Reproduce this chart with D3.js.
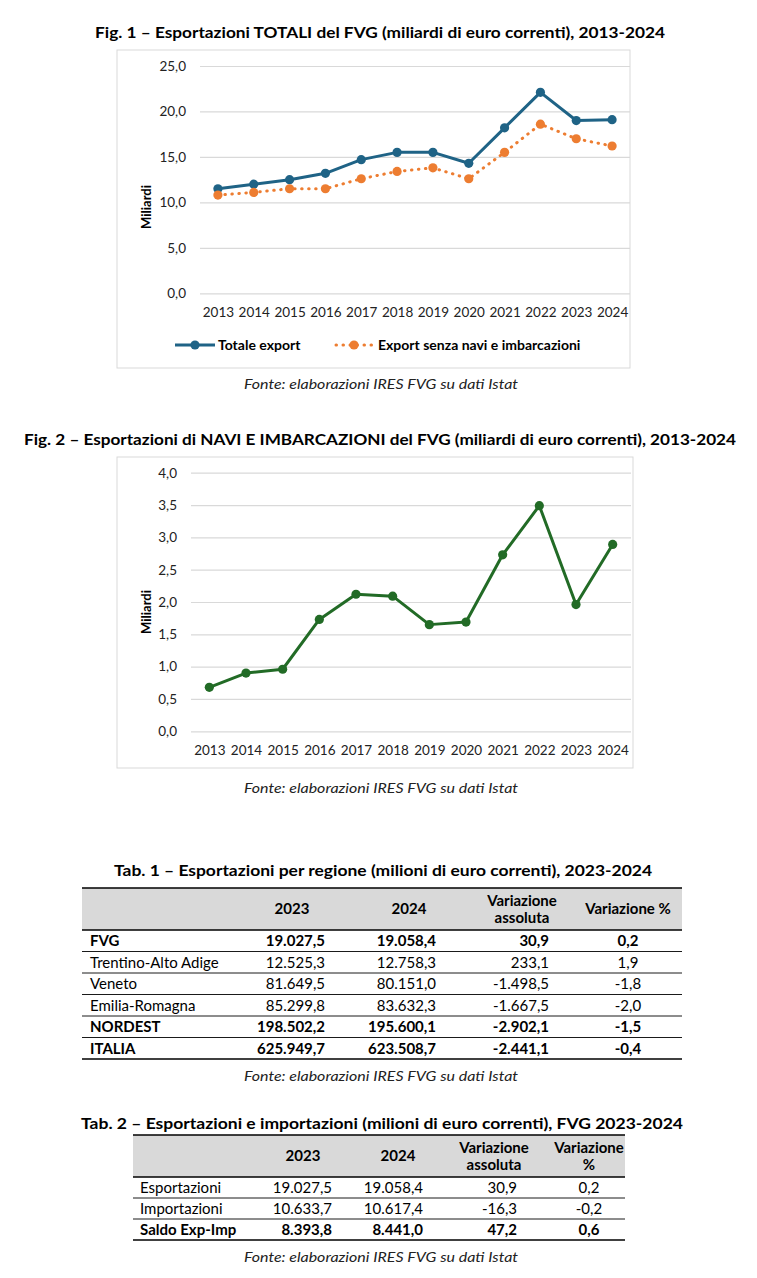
<!DOCTYPE html>
<html>
<head>
<meta charset="utf-8">
<script src="https://cdn.jsdelivr.net/npm/d3@7"></script>
<style>
  body { margin: 0; background: #fff; }
  svg { display: block; font-family: Lato, "Open Sans", sans-serif; }
</style>
</head>
<body>
<div id="chart"></div>
<script>
// Data
var years = [2013, 2014, 2015, 2016, 2017, 2018, 2019, 2020, 2021, 2022, 2023, 2024];
var totaleExport = [11.5, 12.0, 12.5, 13.2, 14.7, 15.5, 15.5, 14.3, 18.2, 22.1, 19.0, 19.1];
var exportSenzaNavi = [10.8, 11.1, 11.5, 11.5, 12.6, 13.4, 13.8, 12.6, 15.5, 18.6, 17.0, 16.2];
var naviImbarcazioni = [0.68, 0.90, 0.96, 1.73, 2.12, 2.09, 1.65, 1.69, 2.73, 3.49, 1.96, 2.89];
var yTicks1 = [0, 5, 10, 15, 20, 25];
var yTicks2 = [0, 0.5, 1, 1.5, 2, 2.5, 3, 3.5, 4];
var seriesNames = ['Totale export', 'Export senza navi e imbarcazioni'];

var tab1Header = ['', '2023', '2024', 'Variazione|assoluta', 'Variazione %'];
var tab1Labels = ['FVG', 'Trentino-Alto Adige', 'Veneto', 'Emilia-Romagna', 'NORDEST', 'ITALIA'];
var tab1Bold = [true, false, false, false, true, true];
var tab1Values = [
  [19027.5, 19058.4, 30.9, 0.2],
  [12525.3, 12758.3, 233.1, 1.9],
  [81649.5, 80151.0, -1498.5, -1.8],
  [85299.8, 83632.3, -1667.5, -2.0],
  [198502.2, 195600.1, -2902.1, -1.5],
  [625949.7, 623508.7, -2441.1, -0.4]
];

var tab2Header = ['', '2023', '2024', 'Variazione|assoluta', 'Variazione|%'];
var tab2Labels = ['Esportazioni', 'Importazioni', 'Saldo Exp-Imp'];
var tab2Bold = [false, false, true];
var tab2Values = [
  [19027.5, 19058.4, 30.9, 0.2],
  [10633.7, 10617.4, -16.3, -0.2],
  [8393.8, 8441.0, 47.2, 0.6]
];

var fonte = 'Fonte: elaborazioni IRES FVG su dati Istat';

var it = d3.formatLocale({ decimal: ',', thousands: '.', grouping: [3], currency: ['€', ''], minus: '-' });
var fmt1 = it.format('.1f');
var fmtNum = it.format(',.1f');

var W = 757, H = 1278;
var svg = d3.select('#chart').append('svg').attr('width', W).attr('height', H);

var BLUE = '#1f6386', ORANGE = '#ed7d31', GREEN = '#226b26', GRID = '#d9d9d9';

function title(text, x, y, len) {
  svg.append('text')
    .attr('x', x).attr('y', y)
    .attr('text-anchor', 'middle')
    .attr('font-weight', 'bold')
    .attr('font-size', '15px')
    .attr('fill', '#000')
    .attr('textLength', len)
    .attr('lengthAdjust', 'spacingAndGlyphs')
    .text(text);
}

function source(y) {
  svg.append('text')
    .attr('x', 381).attr('y', y)
    .attr('text-anchor', 'middle')
    .attr('font-style', 'italic')
    .attr('font-size', '14px')
    .attr('fill', '#222')
    .attr('textLength', 274)
    .attr('lengthAdjust', 'spacingAndGlyphs')
    .text(fonte);
}

function lineChart(opt) {
  svg.append('rect')
    .attr('x', opt.frame[0]).attr('y', opt.frame[1])
    .attr('width', opt.frame[2]).attr('height', opt.frame[3])
    .attr('fill', '#fff').attr('stroke', GRID).attr('stroke-width', 1);

  var x = d3.scalePoint().domain(years).range(opt.xRange).padding(0.5);
  var y = d3.scaleLinear().domain(opt.yDomain).range(opt.yRange);

  var yAxis = svg.append('g')
    .attr('transform', 'translate(' + opt.xRange[0] + ',0)')
    .call(d3.axisLeft(y).tickValues(opt.yTicks).tickFormat(fmt1)
      .tickSize(-(opt.xRange[1] - opt.xRange[0])).tickPadding(opt.tickPad));
  yAxis.select('.domain').remove();
  yAxis.selectAll('line').attr('stroke', GRID).attr('stroke-width', 1.2);
  yAxis.selectAll('text').attr('font-size', '13.5px').attr('fill', '#222').attr('font-family', 'Lato, sans-serif');

  var xAxis = svg.append('g')
    .attr('transform', 'translate(0,' + opt.yRange[0] + ')')
    .call(d3.axisBottom(x).tickSize(0).tickPadding(14));
  xAxis.select('.domain').remove();
  xAxis.selectAll('text').attr('font-size', '13.5px').attr('fill', '#222').attr('font-family', 'Lato, sans-serif');

  svg.append('text')
    .attr('transform', 'translate(' + opt.titleX + ',' + opt.titleY + ') rotate(-90)')
    .attr('text-anchor', 'middle')
    .attr('dy', '0.35em')
    .attr('font-weight', 'bold')
    .attr('font-size', '13px')
    .attr('fill', '#000')
    .text('Miliardi');

  opt.series.forEach(function (s) {
    var line = d3.line()
      .x(function (d, i) { return x(years[i]); })
      .y(function (d) { return y(d); });
    svg.append('path')
      .datum(s.values)
      .attr('d', line)
      .attr('fill', 'none')
      .attr('stroke', s.color)
      .attr('stroke-width', 3)
      .attr('stroke-linecap', s.dotted ? 'round' : 'butt')
      .attr('stroke-linejoin', 'round')
      .attr('stroke-dasharray', s.dotted ? '0.5 6.5' : null);
    svg.append('g').selectAll('circle')
      .data(s.values)
      .join('circle')
      .attr('cx', function (d, i) { return x(years[i]); })
      .attr('cy', function (d) { return y(d); })
      .attr('r', 4.6)
      .attr('fill', s.color);
  });
}

// Fig. 1
title('Fig. 1 \u2013 Esportazioni TOTALI del FVG (miliardi di euro correnti), 2013-2024', 380, 38, 570);
lineChart({
  frame: [117, 50, 513, 318],
  xRange: [200, 630], yRange: [293.3, 66], yDomain: [0, 25], yTicks: yTicks1,
  tickPad: 14, titleX: 146, titleY: 207,
  series: [
    { values: totaleExport, color: BLUE, dotted: false },
    { values: exportSenzaNavi, color: ORANGE, dotted: true }
  ]
});

// Legend
var legendItems = [
  { name: seriesNames[0], color: BLUE, dotted: false, x0: 175, x1: 215, tx: 218 },
  { name: seriesNames[1], color: ORANGE, dotted: true, x0: 336, x1: 372, tx: 378 }
];
var lg = svg.append('g').selectAll('g').data(legendItems).join('g');
lg.append('line')
  .attr('x1', function (d) { return d.x0; }).attr('x2', function (d) { return d.x1; })
  .attr('y1', 345).attr('y2', 345)
  .attr('stroke', function (d) { return d.color; })
  .attr('stroke-width', 3)
  .attr('stroke-linecap', function (d) { return d.dotted ? 'round' : 'butt'; })
  .attr('stroke-dasharray', function (d) { return d.dotted ? '0.5 6.5' : null; });
lg.append('circle')
  .attr('cx', function (d) { return (d.x0 + d.x1) / 2; }).attr('cy', 345).attr('r', 4.6)
  .attr('fill', function (d) { return d.color; });
lg.append('text')
  .attr('x', function (d) { return d.tx; }).attr('y', 345).attr('dy', '0.35em')
  .attr('font-weight', 'bold').attr('font-size', '14px').attr('fill', '#000')
  .text(function (d) { return d.name; });

source(389);

// Fig. 2
title('Fig. 2 \u2013 Esportazioni di NAVI E IMBARCAZIONI del FVG (miliardi di euro correnti), 2013-2024', 380, 445, 712);
lineChart({
  frame: [117, 457, 516, 311],
  xRange: [191, 631], yRange: [731.3, 472.7], yDomain: [0, 4], yTicks: yTicks2,
  tickPad: 14, titleX: 146, titleY: 612,
  series: [
    { values: naviImbarcazioni, color: GREEN, dotted: false }
  ]
});
source(793);

// Tables
function table(opt) {
  var g = svg.append('g');
  var left = opt.left, right = opt.right;
  g.append('rect')
    .attr('x', left).attr('y', opt.top)
    .attr('width', right - left).attr('height', opt.headerH)
    .attr('fill', '#d9d9d9');

  var yRows = d3.range(opt.labels.length + 1).map(function (i) {
    return opt.top + opt.headerH + i * opt.rowH;
  });

  // header text
  opt.header.forEach(function (h, c) {
    if (!h) return;
    var parts = h.split('|');
    var t = g.append('text')
      .attr('x', opt.headX[c])
      .attr('text-anchor', 'middle')
      .attr('font-weight', 'bold')
      .attr('font-size', '15px')
      .attr('fill', '#000');
    if (parts.length === 1) {
      t.attr('y', opt.top + opt.headerH / 2).attr('dy', '0.35em').text(parts[0]);
    } else {
      t.append('tspan').attr('x', opt.headX[c]).attr('y', opt.top + opt.headerH / 2 - 8.5).attr('dy', '0.35em').text(parts[0]);
      t.append('tspan').attr('x', opt.headX[c]).attr('y', opt.top + opt.headerH / 2 + 9).attr('dy', '0.35em').text(parts[1]);
    }
  });

  opt.labels.forEach(function (lab, r) {
    var cy = yRows[r] + opt.rowH / 2;
    var w = opt.bold[r] ? 'bold' : 'normal';
    g.append('text')
      .attr('x', opt.labelX).attr('y', cy).attr('dy', '0.35em')
      .attr('font-weight', w).attr('font-size', '15px').attr('fill', '#000')
      .text(lab);
    opt.values[r].forEach(function (v, c) {
      var col = opt.cols[c];
      g.append('text')
        .attr('x', col.x).attr('y', cy).attr('dy', '0.35em')
        .attr('text-anchor', col.anchor)
        .attr('font-weight', w).attr('font-size', '15px').attr('fill', '#000')
        .text(fmtNum(v));
    });
  });

  // rules
  var rules = [{ y: opt.top, w: 1.6 }].concat(yRows.map(function (y, i) {
    return { y: y, w: (i === 0 || i === yRows.length - 1) ? 1.6 : 0.9 };
  }));
  g.selectAll('line.rule').data(rules).join('line')
    .attr('class', 'rule')
    .attr('x1', left).attr('x2', right)
    .attr('y1', function (d) { return d.y; }).attr('y2', function (d) { return d.y; })
    .attr('stroke', '#000')
    .attr('stroke-width', function (d) { return d.w; });
}

title('Tab. 1 \u2013 Esportazioni per regione (milioni di euro correnti), 2023-2024', 383, 876, 538);
table({
  left: 82, right: 682, top: 888, headerH: 42, rowH: 21.5,
  labels: tab1Labels, bold: tab1Bold, values: tab1Values, header: tab1Header,
  labelX: 90,
  headX: [0, 292, 409, 522, 628],
  cols: [
    { x: 325, anchor: 'end' },
    { x: 436, anchor: 'end' },
    { x: 549, anchor: 'end' },
    { x: 628, anchor: 'middle' }
  ]
});
source(1081);

title('Tab. 2 \u2013 Esportazioni e importazioni (milioni di euro correnti), FVG 2023-2024', 382, 1129, 602);
table({
  left: 133, right: 625, top: 1135, headerH: 42, rowH: 21,
  labels: tab2Labels, bold: tab2Bold, values: tab2Values, header: tab2Header,
  labelX: 140,
  headX: [0, 303, 398, 494, 589],
  cols: [
    { x: 332, anchor: 'end' },
    { x: 423, anchor: 'end' },
    { x: 517, anchor: 'end' },
    { x: 589, anchor: 'middle' }
  ]
});
source(1262);
</script>
</body>
</html>
